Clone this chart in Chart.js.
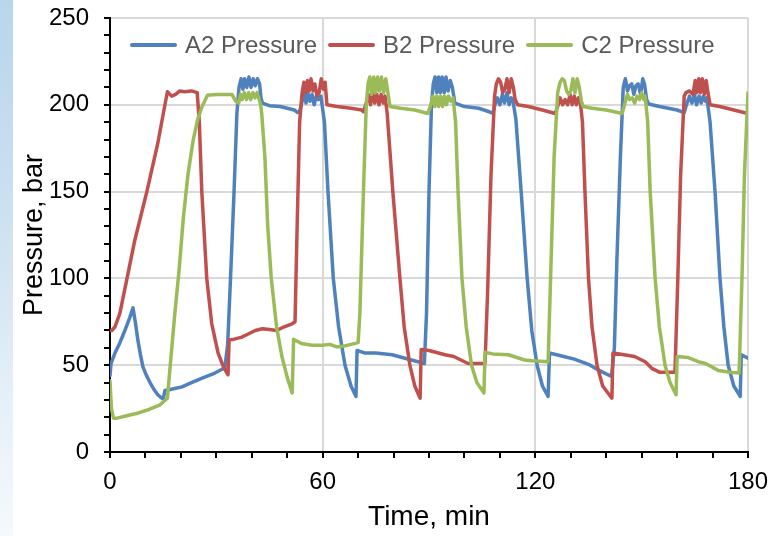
<!DOCTYPE html>
<html>
<head>
<meta charset="utf-8">
<title>Pressure cycles</title>
<script src="https://cdn.jsdelivr.net/npm/chart.js@4/dist/chart.umd.min.js"></script>
<style>
    html, body { margin: 0; padding: 0; }
    body {
        width: 780px; height: 536px; position: relative; overflow: hidden;
        background: #ffffff; font-family: "Liberation Sans", Arial, sans-serif;
    }
    #strip {
        position: absolute; left: 0; top: 0; width: 13px; height: 536px;
        background: linear-gradient(to bottom, #b8d6eb 0%, #cce1f0 40%, #e6f0f8 75%, #f5f9fd 100%);
    }
    #chart { position: absolute; left: 0; top: 0; }
    #legend {
        position: absolute; left: 130px; top: 31px; display: flex; align-items: center;
        font-size: 24px; color: #595959; white-space: nowrap;
    }
    .item { display: flex; align-items: center; margin-right: 11px; }
    .swatch { width: 47px; height: 4px; border-radius: 2px; margin-right: 8px; }
</style>
</head>
<body>
<div id="strip"></div>
<canvas id="chart" width="780" height="536"></canvas>
<div id="legend"></div>
<script>
/* =========================
DATA
========================= */

const seriesNames = ["A2 Pressure", "B2 Pressure", "C2 Pressure"];
const seriesColors = ["#4f81bd", "#c0504d", "#9bbb59"];

const xMajor = [0, 60, 120, 180];
const yMajor = [0, 50, 100, 150, 200, 250];

// A2 - time (min) / pressure (bar)
const aTime = [
    0, 0.3, 1.4, 2.8, 4.2, 5.5, 6.5, 7.2, 7.9, 8.6, 9.3, 10.3, 11.3, 12.4, 13.5, 14.3, 15,
    15.5, 17, 20.3, 23, 26, 29.6, 32.4, 33.2, 34, 35, 35.8, 36.4, 37, 37.5, 38, 38.6, 39.2,
    39.8, 40.4, 41, 41.6, 42.2, 42.6, 43, 45, 48, 50, 52, 53, 53.5, 54.3, 54.8, 55.3, 55.8,
    56.4, 57, 57.6, 58.2, 58.8, 59.5, 60.5, 61.5, 63, 64.5, 66.3, 68, 69.4, 69.7, 72, 75,
    79.6, 83.2, 86.9, 88.7, 89.3, 90, 90.7, 91.2, 91.7, 92.2, 92.7, 93.2, 93.7, 94.3, 94.8,
    95.4, 96, 96.6, 97.3, 100, 104, 107, 108, 108.6, 109.3, 110, 110.7, 111.3, 112, 112.6,
    113.2, 113.7, 114.5, 116, 117.7, 119, 120.5, 122, 123.6, 124, 128, 131, 135, 138, 141.5,
    142.3, 143, 144, 144.8, 145.4, 146, 146.6, 147.2, 147.8, 148.4, 149, 149.7, 150.3, 150.8,
    151.4, 152, 155, 160, 162, 162.8, 163.5, 164.2, 164.9, 165.5, 166.2, 166.8, 167.4, 168,
    168.4, 169.3, 170.7, 172.1, 173.2, 174.4, 176, 177.8, 178.1, 180
];
const aPressure = [
    44, 51, 57, 63, 70, 77, 83, 74, 64, 56, 49, 44, 40, 36, 33, 31.5, 30.5,
    35.5, 36, 37.5, 40, 42.5, 45.5, 48.5, 62, 100, 150, 195, 210, 215, 209, 215, 210, 216,
    210, 215, 211, 215, 212, 204, 201, 199.5, 199, 198, 197, 195.5, 196, 203, 206, 201, 207,
    202, 206, 200, 205, 203, 205, 190, 150, 100, 72, 50, 38, 32, 58.5, 57, 57,
    56, 54, 52, 51, 80, 150, 200, 212, 216, 207, 216, 207, 216, 207, 216,
    208, 214, 210, 201, 199, 198, 196, 195, 200, 204, 200, 206, 201, 207, 200,
    204, 202, 192, 150, 100, 70, 50, 38, 32, 57, 55, 53.5, 50.5, 47, 43.5,
    60, 110, 170, 210, 215, 208, 211, 212, 206, 211, 212, 206, 215, 212,
    203, 200.5, 199, 197, 195.5, 201, 205, 201, 206, 200, 205, 201, 205, 202,
    204, 190, 150, 100, 72, 50, 38, 32, 56, 54
];

// B2 - time (min) / pressure (bar)
const bTime = [
    0, 0.5, 1.4, 2.8, 4.8, 7, 10.4, 13.5, 15.5, 16.2, 17.4, 18.5, 19.7, 21, 23, 24.6, 25.2,
    25.9, 27.3, 28.7, 30.5, 32, 33.3, 33.6, 35, 37, 39, 41, 43, 45, 47, 49, 51.5, 52.2, 52.8,
    53.5, 54.2, 54.7, 55.2, 55.7, 56.2, 56.7, 57.3, 57.8, 58.4, 59, 59.6, 60.2, 60.7, 61.2,
    64, 68, 71, 71.5, 72.3, 72.9, 73.5, 74.1, 74.7, 75.3, 75.9, 76.5, 77.1, 77.6, 78.2, 79.8,
    81.8, 83, 84.6, 86, 87.5, 87.8, 90, 94.5, 97, 99, 101, 105.8, 106.5, 107.5, 108.5, 109,
    109.6, 110.2, 110.8, 111.4, 112, 112.6, 113.2, 113.8, 114.3, 115, 118, 122, 125.6, 126.3,
    127, 127.7, 128.4, 129.1, 129.8, 130.4, 131, 131.6, 132.2, 132.6, 133.3, 134, 135, 136,
    137.4, 139, 141.6, 141.9, 145, 148, 151, 153, 155, 159.4, 160.2, 161, 162, 162.5, 163.5,
    164.5, 165.1, 165.6, 166.1, 166.6, 167.1, 167.7, 168.2, 168.7, 169.3, 172, 176, 180
];
const bPressure = [
    70, 70, 72, 80, 100, 122, 150, 178, 200, 207.5, 205, 206, 208, 207.5, 208, 207, 190,
    150, 100, 74, 57, 49, 44.5, 64.5, 65, 66, 68, 70, 71, 70.5, 70, 72, 74, 75, 130,
    190, 207, 213, 207, 214, 208, 215, 208, 212, 205, 207, 215, 209, 213, 200,
    199, 198, 197, 196, 201, 206, 200, 207, 201, 206, 200, 206, 201, 205, 195, 150,
    100, 72, 50, 38, 31, 59, 58.5, 56, 55, 53, 51, 51, 90, 160, 205, 212,
    215, 213, 207, 209, 215, 207, 215, 210, 203, 200, 199, 197, 195, 199,
    204, 200, 203, 200, 206, 200, 205, 200, 204, 203, 190, 150, 100, 72,
    50, 38, 31, 57, 56, 55, 52, 48, 46, 46, 100, 160, 205, 207, 208,
    206, 214, 207, 215, 207, 215, 206, 214, 207, 200, 199, 197, 195
];

// C2 - time (min) / pressure (bar)
const cTime = [
    0, 0.4, 1, 2, 5, 8, 11, 14, 16.2, 17, 18.3, 19.5, 20.7, 22, 23.5, 24.8, 26, 27.5, 30,
    34.4, 35.5, 36.3, 36.8, 37.3, 37.9, 38.5, 39.1, 39.7, 40.3, 40.9, 41.5, 42.1, 42.5, 42.8,
    43.7, 44.5, 45.5, 47, 48.5, 50, 51.4, 51.8, 54, 57, 60, 62, 64, 66, 68, 70, 70.5, 71.5,
    72.3, 72.8, 73.3, 73.8, 74.4, 74.9, 75.5, 76, 76.6, 77.2, 77.8, 78.4, 79, 82, 86, 89.7,
    90.5, 91.1, 91.6, 92.2, 92.7, 93.3, 93.8, 94.4, 94.9, 95.5, 96.2, 96.8, 97.5, 98.2, 99.3,
    100.5, 102, 103.5, 105.5, 105.8, 108, 112.4, 117, 119, 123.6, 124.3, 125.3, 126.3, 127,
    127.6, 128.2, 128.8, 129.4, 130, 130.6, 131.2, 131.8, 132.4, 133, 133.5, 136, 140, 144.5,
    145.3, 146, 146.6, 147.3, 148, 148.7, 149.4, 150, 150.6, 151, 151.7, 152.4, 153.8, 155,
    156.6, 158, 159.7, 160, 163, 166, 168, 171.6, 175, 177.5, 178.3, 179, 180
];
const cPressure = [
    41, 25, 19.5, 19.5, 21, 22.5, 24.5, 27, 31, 50, 80, 105, 135, 160, 180, 192, 199, 205.5, 206,
    206, 202, 201, 206, 203, 207, 203, 207, 203, 207, 204, 207, 203, 200, 195,
    170, 130, 100, 72, 55, 43, 34, 65, 62.5, 61.5, 61.5, 62, 60.5, 61, 62, 63, 80, 150,
    200, 212, 216, 206, 216, 207, 216, 208, 216, 207, 215, 207, 199, 198, 197, 195,
    200, 205, 199, 205, 199, 205, 199, 205, 200, 205, 202, 204, 190, 150, 100,
    72, 50, 40, 34, 57.5, 56.5, 56, 53, 52.5, 52, 100, 170, 207, 213,
    215, 214, 208, 206, 208, 215, 207, 215, 210, 202, 199, 198, 197, 195,
    201, 206, 203, 204, 201, 205, 203, 207, 203, 205, 190, 150, 100, 72,
    50, 40, 33, 55, 54.5, 52, 51, 47, 46, 45.5, 100, 160, 207
];

const seriesTimes = [aTime, bTime, cTime];
const seriesValues = [aPressure, bPressure, cPressure];

/* =========================
HELPERS
========================= */

const fontFamily = '"Liberation Sans", Arial, sans-serif';

function toPoints(times, values) {

    return times.map((t, i) => ({ x: t, y: values[i] }));

}

function buildLegend() {

    const legend = document.getElementById("legend");

    seriesNames.forEach((name, i) => {

        const item = document.createElement("div");
        item.className = "item";

        const swatch = document.createElement("span");
        swatch.className = "swatch";
        swatch.style.background = seriesColors[i];

        const label = document.createElement("span");
        label.textContent = name;

        item.appendChild(swatch);
        item.appendChild(label);
        legend.appendChild(item);

    });

}

/* =========================
CHART
========================= */

function renderChart() {

    Chart.defaults.font.family = fontFamily;

    const datasets = seriesNames.map((name, i) => ({
        label: name,
        data: toPoints(seriesTimes[i], seriesValues[i]),
        borderColor: seriesColors[i],
        backgroundColor: seriesColors[i],
        borderWidth: 3.5,
        pointRadius: 0,
        tension: 0,
        borderJoinStyle: "round",
        borderCapStyle: "round",
        order: seriesNames.length - i
    }));

    new Chart(document.getElementById("chart"), {

        type: "line",

        data: { datasets },

        options: {
            responsive: false,
            animation: false,
            layout: { padding: { left: 0, right: 32, top: 18, bottom: 0 } },
            plugins: {
                legend: { display: false },
                tooltip: { enabled: false }
            },
            scales: {
                x: {
                    type: "linear",
                    min: 0,
                    max: 180,
                    afterFit: s => { s.height = 84; },
                    border: { display: true, color: "#000000", width: 2 },
                    grid: {
                        color: c => xMajor.includes(c.tick.value) ? "#d9d9d9" : "rgba(0,0,0,0)",
                        lineWidth: 2,
                        tickColor: "#000000",
                        tickWidth: 2,
                        tickLength: 6
                    },
                    ticks: {
                        stepSize: 10,
                        autoSkip: false,
                        maxRotation: 0,
                        color: "#000000",
                        padding: 10,
                        font: { size: 24 },
                        callback: v => xMajor.includes(v) ? String(v) : ""
                    },
                    title: {
                        display: true,
                        text: "Time, min",
                        color: "#000000",
                        font: { size: 28 },
                        padding: { top: 0, bottom: 2 }
                    }
                },
                y: {
                    min: 0,
                    max: 250,
                    afterFit: s => {
                        s.width = 110;
                        s.paddingTop = 0;
                        s.paddingBottom = 0;
                    },
                    border: { display: true, color: "#000000", width: 2 },
                    grid: {
                        color: c => yMajor.includes(c.tick.value) ? "#d9d9d9" : "rgba(0,0,0,0)",
                        lineWidth: 2,
                        tickColor: "#000000",
                        tickWidth: 2,
                        tickLength: 6
                    },
                    ticks: {
                        stepSize: 10,
                        autoSkip: false,
                        color: "#000000",
                        padding: 15,
                        font: { size: 24 },
                        callback: v => yMajor.includes(v) ? String(v) : ""
                    },
                    title: {
                        display: true,
                        text: "Pressure, bar",
                        color: "#000000",
                        font: { size: 27 },
                        padding: { top: 18, bottom: 0 }
                    }
                }
            }
        }

    });

}

buildLegend();
renderChart();
</script>
</body>
</html>
